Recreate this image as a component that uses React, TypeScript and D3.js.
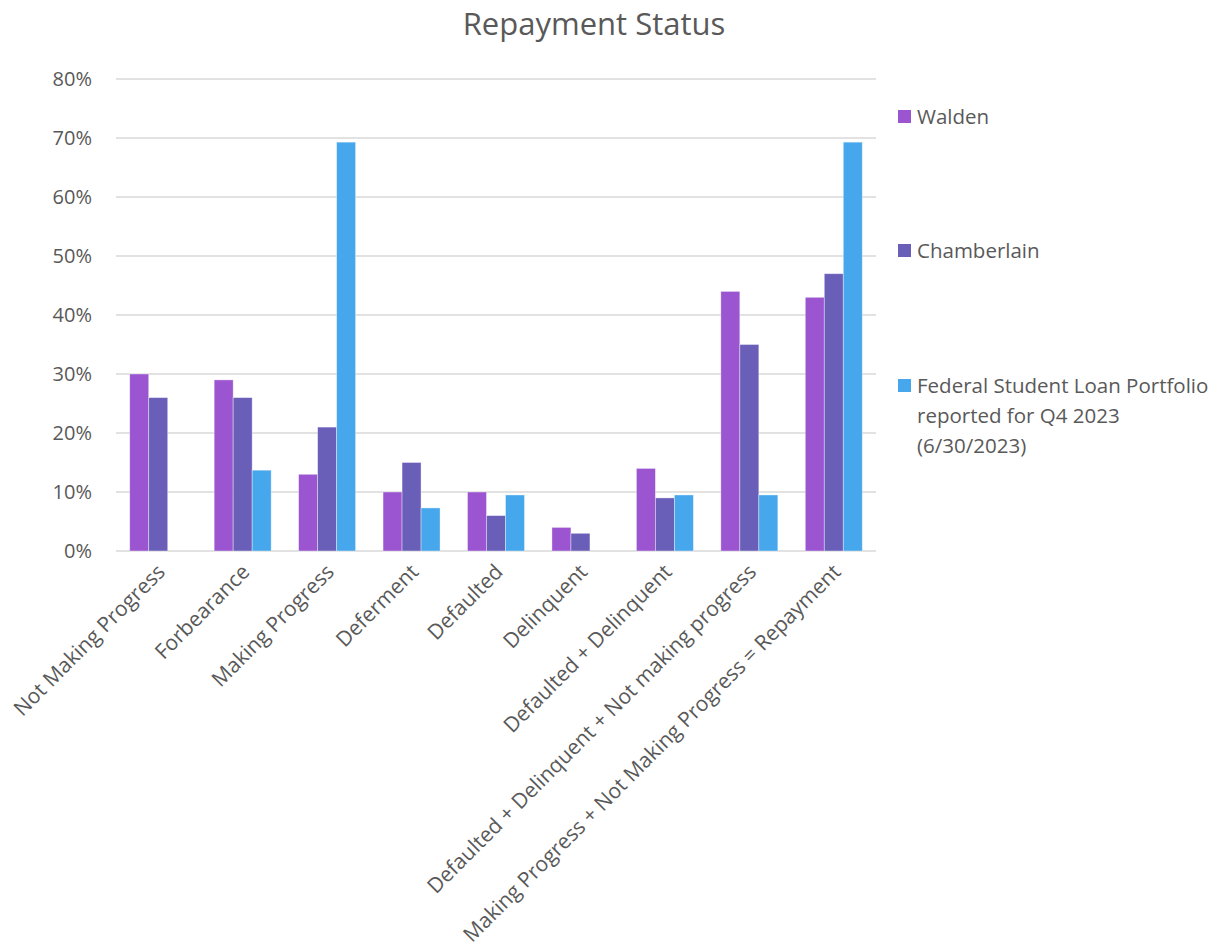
import * as d3 from 'd3';
import React, { useEffect, useRef } from 'react';

const categories = [
  'Not Making Progress',
  'Forbearance',
  'Making Progress',
  'Deferment',
  'Defaulted',
  'Delinquent',
  'Defaulted + Delinquent',
  'Defaulted + Delinquent + Not making progress',
  'Making Progress + Not Making Progress = Repayment',
];

const seriesNames = ['Walden', 'Chamberlain', 'Federal Student Loan Portfolio'];

const walden = [30, 29, 13, 10, 10, 4, 14, 44, 43];
const chamberlain = [26, 26, 21, 15, 6, 3, 9, 35, 47];
const federal = [null, 13.7, 69.3, 7.3, 9.5, null, 9.5, 9.5, 69.3];

const yTicks = [0, 10, 20, 30, 40, 50, 60, 70, 80];

const legendLines = [
  ['Walden'],
  ['Chamberlain'],
  ['Federal Student Loan Portfolio', 'reported for Q4 2023', '(6/30/2023)'],
];

const colors = ['#9b55d0', '#6a5fb8', '#47a7ec'];

const width = 1225;
const height = 951;
const margin = { top: 79, right: 349, bottom: 400, left: 116 };
const font = "'Open Sans', sans-serif";

export default function App() {
  const axisBottomRef = useRef<SVGGElement>(null);
  const axisLeftRef = useRef<SVGGElement>(null);

  const innerW = width - margin.left - margin.right;
  const innerH = height - margin.top - margin.bottom;

  const scaleX = d3.scaleBand().domain(categories).range([0, innerW]).paddingInner(0.325).paddingOuter(0.1625);
  const scaleSeries = d3.scaleBand().domain(seriesNames).range([0, scaleX.bandwidth()]);
  const scaleY = d3.scaleLinear().domain([0, 80]).range([innerH, 0]);

  const values = [walden, chamberlain, federal];

  useEffect(() => {
    if (axisLeftRef.current) {
      const g = d3.select(axisLeftRef.current);
      g.selectAll('*').remove();
      g.call(
        d3.axisLeft(scaleY).tickValues(yTicks).tickSize(0).tickPadding(24).tickFormat((d) => `${d}%`),
      );
      g.select('.domain').remove();
      g.selectAll('text')
        .attr('fill', '#595959')
        .style('font-size', '20px')
        .style('font-family', font);
    }
    if (axisBottomRef.current) {
      const g = d3.select(axisBottomRef.current);
      g.selectAll('*').remove();
      g.call(d3.axisBottom(scaleX).tickSize(0).tickPadding(0));
      g.select('.domain').remove();
      g.selectAll('text')
        .attr('fill', '#595959')
        .attr('text-anchor', 'end')
        .attr('dy', '0.35em')
        .attr('y', 0)
        .attr('transform', 'translate(3, 17) rotate(-45)')
        .style('font-size', '21px')
        .style('font-family', font);
    }
  }, []);

  return (
    <svg width={width} height={height} style={{ position: 'absolute', left: 0, top: 0, background: '#fff' }}>
      <text x={594} y={35} textAnchor="middle" fill="#595959" fontSize={31} fontFamily={font}>
        Repayment Status
      </text>
      <g transform={`translate(${margin.left}, ${margin.top})`}>
        {yTicks.map((t) => (
          <line key={t} x1={0} x2={innerW} y1={scaleY(t)} y2={scaleY(t)} stroke="#d9d9d9" strokeWidth={1.5} />
        ))}
        <g ref={axisLeftRef} />
        {categories.map((c, i) => (
          <g key={c} transform={`translate(${scaleX(c)}, 0)`}>
            {seriesNames.map((s, j) => {
              const v = values[j][i];
              if (v == null) return null;
              return (
                <rect
                  key={s}
                  x={scaleSeries(s)}
                  y={scaleY(v)}
                  width={scaleSeries.bandwidth()}
                  height={innerH - scaleY(v)}
                  fill={colors[j]}
                  stroke="#ffffff"
                  strokeOpacity={0.5}
                  strokeWidth={0.75}
                />
              );
            })}
          </g>
        ))}
        <g ref={axisBottomRef} transform={`translate(0, ${innerH})`} />
      </g>
      {legendLines.map((lines, i) => {
        const y0 = [117, 251, 386][i];
        return (
          <g key={i}>
            <rect x={898} y={y0 - 7} width={13} height={13} fill={colors[i]} />
            <text x={917} y={y0} fill="#595959" fontSize={20.5} fontFamily={font}>
              {lines.map((l, k) => (
                <tspan key={k} x={917} dy={k === 0 ? '0.35em' : 30}>
                  {l}
                </tspan>
              ))}
            </text>
          </g>
        );
      })}
    </svg>
  );
}
